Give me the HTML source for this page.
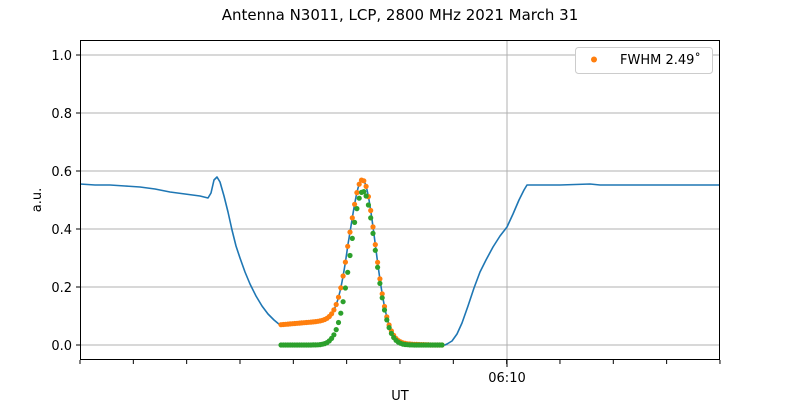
<!DOCTYPE html>
<html><head><meta charset="utf-8"><style>
body{margin:0;background:#fff;}
svg{display:block;font-family:"DejaVu Sans","Liberation Sans",sans-serif;}
</style></head><body>
<svg id="s" width="800" height="400" xmlns="http://www.w3.org/2000/svg">
<rect width="800" height="400" fill="#fff"/>
<text x="400" y="20" font-size="15" text-anchor="middle">Antenna N3011, LCP, 2800 MHz 2021 March 31</text>
<g stroke="#b0b0b0" stroke-width="1">
<line x1="80" x2="720" y1="345" y2="345"/><line x1="80" x2="720" y1="287" y2="287"/>
<line x1="80" x2="720" y1="229" y2="229"/><line x1="80" x2="720" y1="171" y2="171"/>
<line x1="80" x2="720" y1="113" y2="113"/><line x1="80" x2="720" y1="55" y2="55"/>
<line x1="507" x2="507" y1="40" y2="360"/>
</g>
<g font-size="13" text-anchor="end">
<text x="72" y="350">0.0</text><text x="72" y="292">0.2</text><text x="72" y="234">0.4</text>
<text x="72" y="176">0.6</text><text x="72" y="118">0.8</text><text x="72" y="60">1.0</text>
</g>
<g stroke="#000" stroke-width="1">
<line x1="76" x2="80" y1="345" y2="345"/><line x1="76" x2="80" y1="287" y2="287"/>
<line x1="76" x2="80" y1="229" y2="229"/><line x1="76" x2="80" y1="171" y2="171"/>
<line x1="76" x2="80" y1="113" y2="113"/><line x1="76" x2="80" y1="55" y2="55"/>
<line x1="507" x2="507" y1="360" y2="367"/>
<g id="minor"></g>
</g>
<text x="507" y="382" font-size="13" text-anchor="middle">06:10</text>
<text x="400" y="400" font-size="13" text-anchor="middle">UT</text>
<text x="0" y="0" font-size="13" text-anchor="middle" transform="translate(41,200) rotate(-90)">a.u.</text>
<path id="blue" fill="none" stroke="#1f77b4" stroke-width="1.6" stroke-linejoin="round"/>
<g id="org" fill="#ff7f0e"></g>
<g id="grn" fill="#2ca02c"></g>
<rect x="80.5" y="40.5" width="639" height="319" fill="none" stroke="#000" stroke-width="1"/>
<rect x="575.5" y="47.5" width="137" height="26" rx="3" fill="#fff" stroke="#ccc"/>
<circle cx="594" cy="59.5" r="3" fill="#ff7f0e"/>
<text x="620" y="64" font-size="13">FWHM 2.49˚</text>
</svg>
<script>
var Y=function(v){return 345-v*290;};
var minor=document.getElementById('minor'),h='';
for(var i=0;i<=12;i++){var x=80+i*53.33;h+='<line x1="'+x+'" x2="'+x+'" y1="360" y2="364"/>';}
minor.innerHTML=h;
function g(x,a){return a*Math.exp(-Math.pow(x-363,2)/(2*12.5*12.5));}
function base(x){if(x<348)return 0.07+0.02*(x-281)/67; if(x<430)return 0.09*Math.exp(-(x-348)/18); return 0;}
var pts=[[80,184],[95,185],[110,185],[125,186],[140,187],[155,189],[170,192],[185,194],[200,196],[208,198],[211,193],[214,180],[217,177],[220,182],[224,196],[228,212],[232,230],[236,246],[240,258],[245,272],[250,284],[256,296],[262,306],[268,314],[274,320],[280,325]];
for(var x=281;x<=445;x+=1){pts.push([x,Y(g(x,0.53)+base(x))]);}
var rise=[[447,344],[452,341],[457,334],[462,323],[468,306],[474,288],[480,272],[486,260],[493,247],[500,236],[507,227],[513,214],[519,200],[524,190],[527,185],[560,185],[590,184],[600,185],[630,185],[660,185],[690,185],[720,185]];
pts=pts.concat(rise);
document.getElementById('blue').setAttribute('d','M'+pts.map(function(p){return p[0].toFixed(1)+','+p[1].toFixed(1);}).join(' L'));
var o='',gg='';
for(var x=281;x<=443;x+=2.3){
 o+='<circle cx="'+x.toFixed(1)+'" cy="'+Y(g(x,0.53)+base(x)).toFixed(1)+'" r="2.6"/>';
 gg+='<circle cx="'+x.toFixed(1)+'" cy="'+Y(g(x,0.53)).toFixed(1)+'" r="2.6"/>';
}
document.getElementById('org').innerHTML=o;
document.getElementById('grn').innerHTML=gg;
</script>
</body></html>
